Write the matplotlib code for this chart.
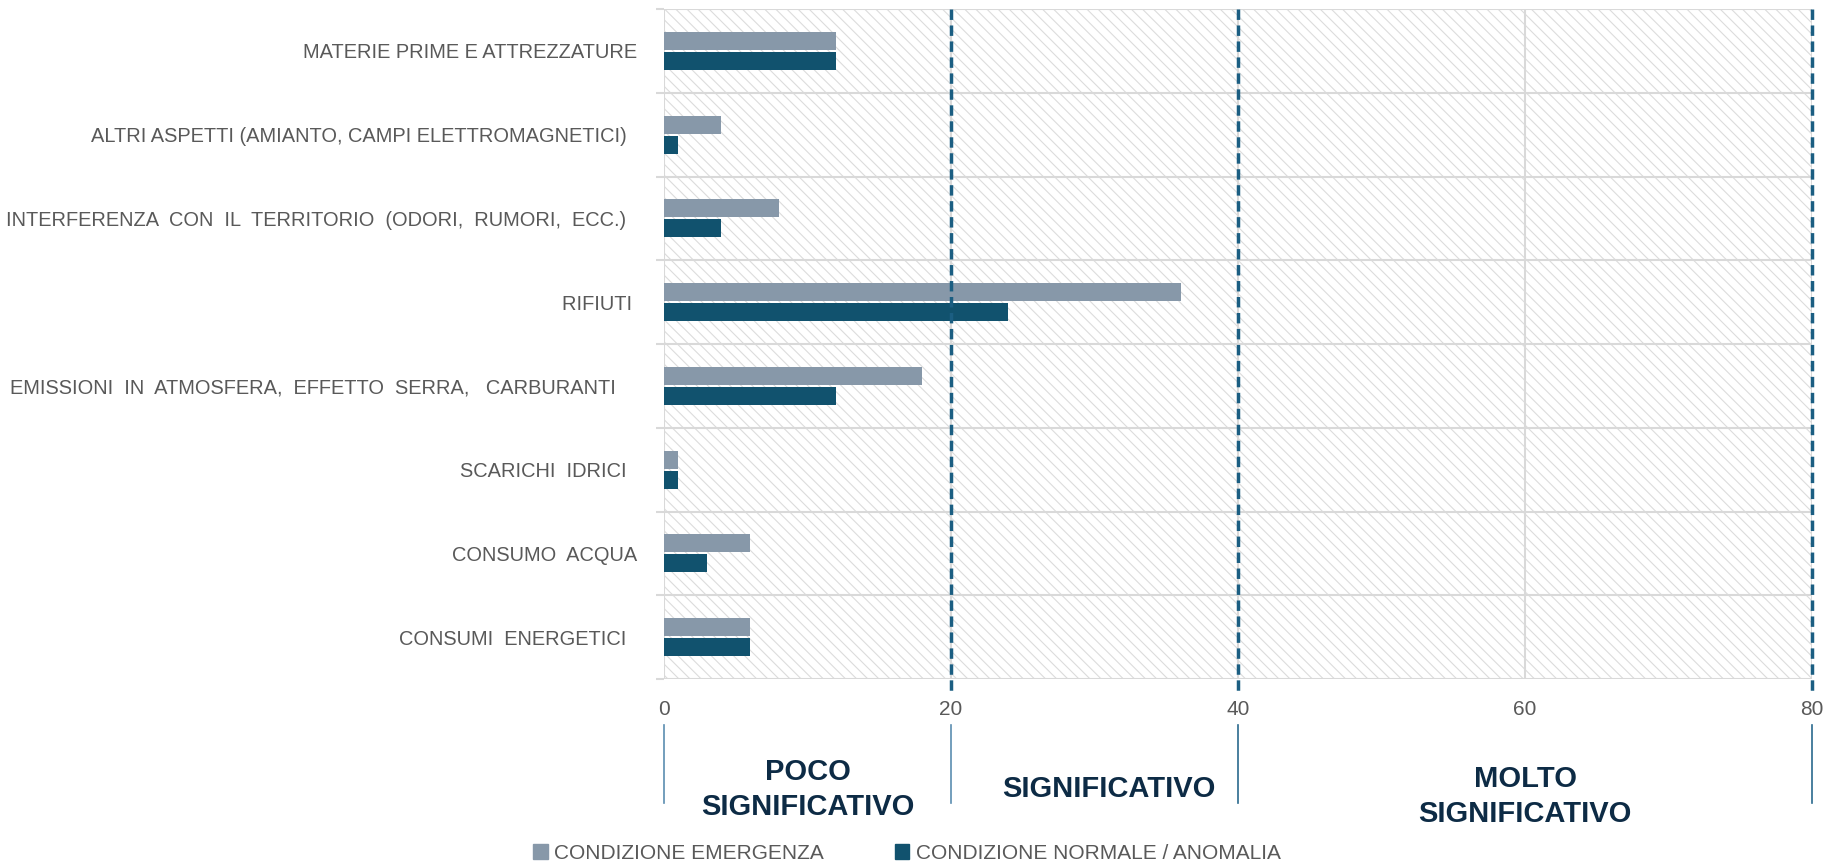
import matplotlib
matplotlib.use('Agg')
import matplotlib.pyplot as plt
from matplotlib import font_manager
from matplotlib.patches import Rectangle, Patch
import numpy as np

# dati
categorie = [
    'MATERIE PRIME E ATTREZZATURE',
    'ALTRI ASPETTI (AMIANTO, CAMPI ELETTROMAGNETICI)  ',
    'INTERFERENZA  CON  IL  TERRITORIO  (ODORI,  RUMORI,  ECC.)  ',
    'RIFIUTI ',
    'EMISSIONI  IN  ATMOSFERA,  EFFETTO  SERRA,   CARBURANTI    ',
    'SCARICHI  IDRICI  ',
    'CONSUMO  ACQUA',
    'CONSUMI  ENERGETICI  ',
]
emergenza = [12, 4, 8, 36, 18, 1, 6, 6]
normale = [12, 1, 4, 24, 12, 1, 3, 6]
serie_nomi = ['CONDIZIONE EMERGENZA', 'CONDIZIONE NORMALE / ANOMALIA']
soglie = [20, 40, 80]
separatori = [0, 20, 40, 80]
fasce = ['POCO\nSIGNIFICATIVO', 'SIGNIFICATIVO', 'MOLTO\nSIGNIFICATIVO']
fasce_x = [10, 31, 60]
x_ticks = [0, 20, 40, 60, 80]

# font: cerco qualcosa di stretto tipo Calibri
nomi = {f.name for f in font_manager.fontManager.ttflist}
famiglia = 'Liberation Sans Narrow' if 'Liberation Sans Narrow' in nomi else 'Liberation Sans'
plt.rcParams['font.family'] = [famiglia, 'DejaVu Sans']
plt.rcParams['hatch.linewidth'] = 0.8

GRIGIO_TXT = '#595959'
GRIGIO_GRID = '#d9d9d9'
COL_EM = '#8798a9'
COL_NO = '#11526e'
COL_DASH = '#1b5e82'
COL_FASCIA = '#0d2b45'

fig = plt.figure(figsize=(18.25, 8.67), dpi=100)
ax = fig.add_axes([0.3638, 0.2168, 0.9929 - 0.3638, 0.9896 - 0.2168])

y = np.arange(len(categorie))
h = 0.215
ax.barh(y - h / 2 - 0.012, emergenza, height=h, color=COL_EM, zorder=3)
ax.barh(y + h / 2 + 0.012, normale, height=h, color=COL_NO, zorder=3)

ax.set_xlim(0, 80)
ax.set_ylim(len(categorie) - 0.5, -0.5)

# sfondo tratteggiato
ax.add_patch(Rectangle((0, 0), 1, 1, transform=ax.transAxes, facecolor='white',
                       edgecolor='#dcdcdc', hatch='\\\\\\', lw=0, zorder=0))

# griglia
for yy in np.arange(-0.5, len(categorie), 1):
    ax.axhline(yy, color=GRIGIO_GRID, lw=1.5, zorder=1)
for xx in x_ticks:
    ax.axvline(xx, color=GRIGIO_GRID, lw=1.5, zorder=1)

ax.set_yticks(np.arange(-0.5, len(categorie), 1), minor=True)
ax.set_yticks(y)
ax.set_yticklabels(categorie, fontsize=14.4, color=GRIGIO_TXT)
ax.tick_params(axis='y', which='major', length=0, pad=19)
ax.tick_params(axis='y', which='minor', length=6, color=GRIGIO_GRID, width=1.5)
ax.set_xticks(x_ticks)
ax.set_xticklabels([str(v) for v in x_ticks], fontsize=15, color=GRIGIO_TXT)
ax.tick_params(axis='x', length=0, pad=15)
for s in ax.spines.values():
    s.set_visible(False)

trans = ax.get_xaxis_transform()
# linee di soglia tratteggiate
for xx in soglie:
    ax.plot([xx, xx], [1.0, -0.024], transform=trans, color=COL_DASH, lw=2.5,
            linestyle=(0, (3, 1.6)), clip_on=False, zorder=4)

# separatori sotto l'asse
col_sep = ['#5b8db0', '#5b8db0', '#2a6a8e', '#2a6a8e']
for xx, c in zip(separatori, col_sep):
    ax.plot([xx, xx], [-0.068, -0.185], transform=trans, color=c, lw=1.2,
            clip_on=False)

y_fasce = [-0.165, -0.164, -0.175]
for xx, yy, t in zip(fasce_x, y_fasce, fasce):
    ax.text(xx, yy, t, transform=trans, ha='center', va='center', fontsize=21,
            fontweight='bold', color=COL_FASCIA, linespacing=1.32)

handles = [Patch(color=COL_EM), Patch(color=COL_NO)]
fig.legend(handles, serie_nomi, loc='center', bbox_to_anchor=(0.497, 0.0161),
           ncol=2, frameon=False, fontsize=15, labelcolor=GRIGIO_TXT,
           handlelength=0.7, handleheight=0.7, handletextpad=0.3,
           columnspacing=3.4)

fig.savefig('out.png', dpi=100)
